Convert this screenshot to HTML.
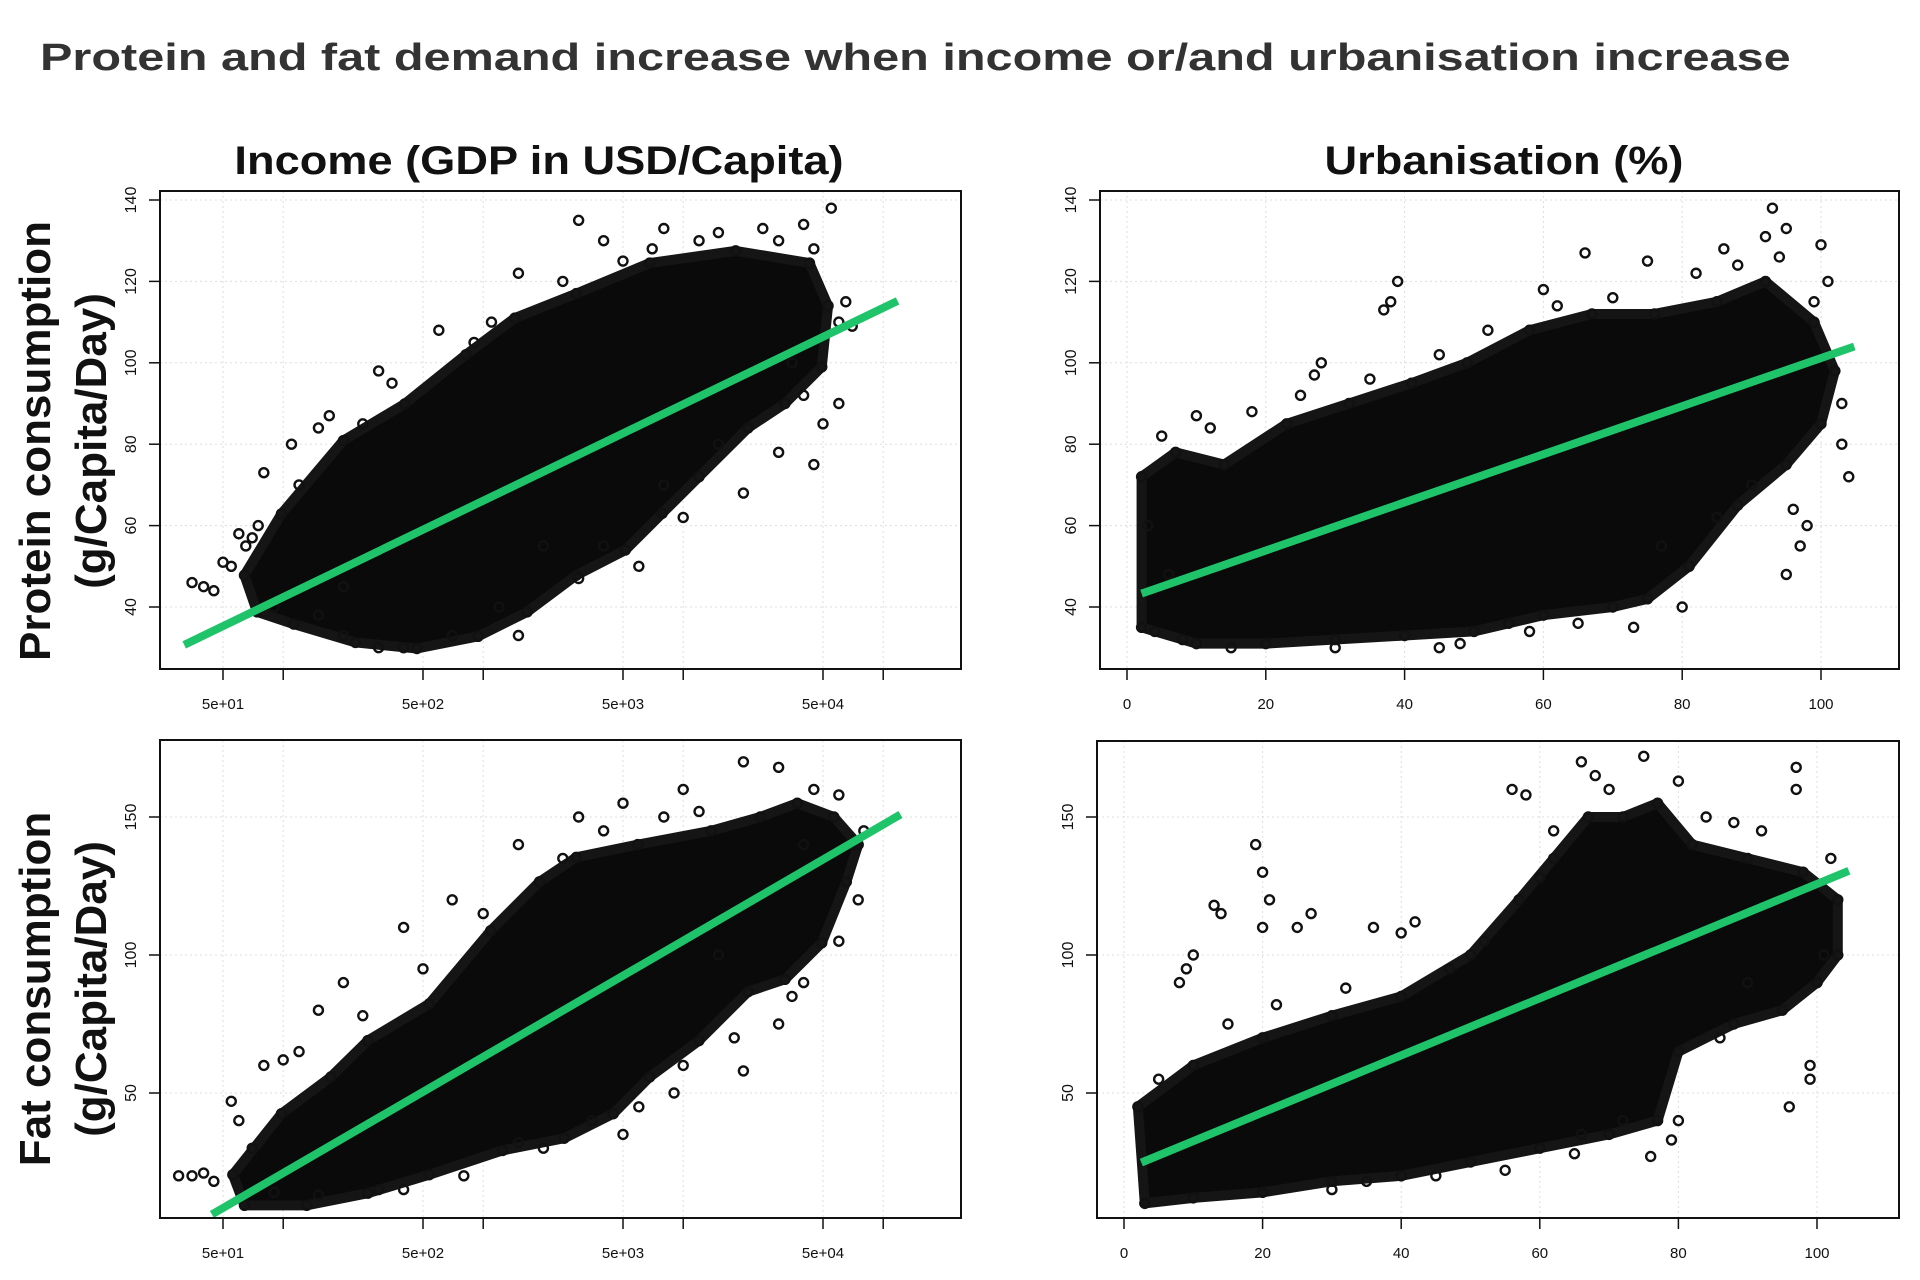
<!DOCTYPE html>
<html><head><meta charset="utf-8"><style>
body{margin:0;background:#fff;width:1920px;height:1280px;overflow:hidden;font-family:"Liberation Sans",sans-serif}
svg{display:block}
</style></head><body>
<svg id="c" width="1920" height="1280">
<text x="40" y="70" font-size="38" font-weight="bold" fill="#333" transform="translate(40,0) scale(1.28,1) translate(-40,0)">Protein and fat demand increase when income or/and urbanisation increase</text>
<text x="539" y="174" text-anchor="middle" font-size="40" font-weight="bold" fill="#111" transform="translate(539,174) scale(1.13,1) translate(-539,-174)">Income (GDP in USD/Capita)</text>
<text x="1504" y="174" text-anchor="middle" font-size="40" font-weight="bold" fill="#111" transform="translate(1504,174) scale(1.13,1) translate(-1504,-174)">Urbanisation (%)</text>
<g font-size="44" font-weight="bold" fill="#111" text-anchor="middle">
<text transform="translate(50,441) rotate(-90)">Protein consumption</text>
<text transform="translate(106,441) rotate(-90)">(g/Capita/Day)</text>
</g>
<g font-size="44" font-weight="bold" fill="#111" text-anchor="middle">
<text transform="translate(50,989) rotate(-90)">Fat consumption</text>
<text transform="translate(106,989) rotate(-90)">(g/Capita/Day)</text>
</g>
</svg>
<script>
// ---- data: protein vs income ----
const pIncHullX=[64,98,200,405,820,1440,2920,6800,18300,42800,53000,49300,32300,21100,12000,7850,5140,2920,1660,944,466,230,113,74];
const pIncHullY=[47.8,62.9,80.9,89.9,102,111,117,124.5,127.5,124.5,114,99,90,84,72,63,54,47.8,38.8,32.8,29.8,31.3,35.8,38.8];
const pIncPtsX=[35,40,45,50,55,60,70,80,65,110,150,170,300,600,1500,3000,4000,8000,15000,25000,40000,55000,60000,70000,40000,50000,45000,20000,10000,6000,3000,1500,700,400,200,150,60000,30000,2000,200,120,250,350,900,1100,2500,5000,7000,12000,30000,45000,65000,35000,15000,8000,4000,1200,300,90,75];
const pIncPtsY=[46,45,44,51,50,58,57,73,55,80,84,87,98,108,122,135,130,133,132,133,134,138,110,109,92,85,75,68,62,50,47,33,33,30,33,38,90,78,55,45,70,85,95,105,110,120,125,128,130,130,128,115,100,80,70,55,40,30,40,60];
const pIncLineX=[32,118000];
const pIncLineY=[30.7,115.2];
// ---- protein vs urbanisation ----
const pUrbHullX=[2.1,7,14,23,32,41,49,58,67,76,85,92,99,102,100,95,88,81,75,70,60,50,40,30,20,10,2.1];
const pUrbHullY=[72,78,75,85,90,95,100,108,112,112,115,120,110,98,85,75,65,50,42,40,38,34,33,32,31,31,35];
const pUrbPtsX=[38,39,37,28,27,95,93,92,100,101,103,103,104,98,97,95,96,90,85,77,80,73,55,45,8,4,6,10,60,66,75,82,86,3,5,12,18,25,35,45,52,62,70,88,94,99,65,58,48,30,15];
const pUrbPtsY=[115,120,113,100,97,133,138,131,129,120,90,80,72,60,55,48,64,70,62,55,40,35,36,30,32,34,48,87,118,127,125,122,128,60,82,84,88,92,96,102,108,114,116,124,126,115,36,34,31,30,30];
const pUrbLineX=[2.1,104.8];
const pUrbLineY=[43.3,104];
// ---- fat vs income ----
const fIncHullX=[56,98,173,265,537,1090,1910,2920,5930,13800,24300,37200,56700,75000,65400,49300,32300,21100,12000,6800,4470,2540,1250,537,265,131,64];
const fIncHullY=[20.4,42.5,55.8,69,82.3,108.8,126.5,135.4,140,145,150,155,150,140,126.5,104.4,91.2,86.7,69,55.8,42.5,33.6,29.2,20.4,13.7,9.3,9.3];
const fIncPtsX=[30,35,40,45,55,60,70,80,100,150,200,400,700,1500,3000,5000,10000,20000,30000,60000,80000,75000,60000,40000,30000,20000,10000,5000,2000,800,400,150,90,40000,15000,6000,120,250,500,1000,2500,4000,8000,12000,45000,70000,35000,18000,9000,3500,1500,300];
const fIncPtsY=[20,20,21,18,47,40,30,60,62,80,90,110,120,140,150,155,160,170,168,158,145,120,105,90,75,58,60,35,30,20,15,13,14,140,100,45,65,78,95,115,135,145,150,152,160,140,85,70,50,40,32,15];
const fIncLineX=[44,122000];
const fIncLineY=[6,150.9];
// ---- fat vs urbanisation ----
const fUrbHullX=[2,10,20,30,40,50,57,62,67,72,77,82,90,98,103,103,100,95,88,80,77,70,60,50,40,30,20,10,3];
const fUrbHullY=[45,60,70,78,85,100,120,135,150,150,155,140,135,130,120,100,90,80,75,65,40,35,30,25,20,18,14,12,10];
const fUrbPtsX=[19,20,21,20,14,13,10,8,9,27,25,36,40,42,56,58,66,75,80,88,97,97,96,99,99,100,101,76,79,80,30,35,45,55,65,72,66,5,15,22,32,47,52,60,70,84,92,102,62,68,86,90];
const fUrbPtsY=[140,130,120,110,115,118,100,90,95,115,110,110,108,112,160,158,170,172,163,148,168,160,45,55,60,90,100,27,33,40,15,18,20,22,28,40,35,55,75,82,88,95,105,128,160,150,145,135,145,165,70,90];
const fUrbLineX=[2.5,104.6];
const fUrbLineY=[24.8,130.5];

const logTicks=[50,100,500,1000,5000,10000,50000,100000];
const logLabels={50:'5e+01',500:'5e+02',5000:'5e+03',50000:'5e+04'};
const linTicks=[0,20,40,60,80,100];
const pYTicks=[40,60,80,100,120,140];
const fYTicks=[50,100,150];

const svg=document.getElementById('c');
const NS='http://www.w3.org/2000/svg';
function mk(tag,attrs,parent){const e=document.createElementNS(NS,tag);for(const k in attrs)e.setAttribute(k,attrs[k]);(parent||svg).appendChild(e);return e;}

function panel(name,frame,xs,ys,xTicks,xLab,yTicks,hx,hy,px,py,lx,ly){
  const g=mk('g',{});
  
  
  xTicks.forEach(t=>{const l=mk('line',{x1:xs(t),x2:xs(t),y1:frame.y0,y2:frame.y1,stroke:'#ddd','stroke-dasharray':'2,3'},g);});
  yTicks.forEach(t=>{const l=mk('line',{x1:frame.x0,x2:frame.x1,y1:ys(t),y2:ys(t),stroke:'#ddd','stroke-dasharray':'2,3'},g);});
  const pts=hx.map((v,i)=>xs(v)+','+ys(hy[i])).join(' ');
  const poly=mk('polygon',{points:pts,fill:'#0a0a0a',stroke:'#151515','stroke-width':10,'stroke-linejoin':'round'},g);
  
  
  hx.forEach((v,i)=>{const c=mk('circle',{cx:xs(v),cy:ys(hy[i]),r:4.5,fill:'none',stroke:'#111','stroke-width':2.4},g);});
  px.forEach((v,i)=>{const c=mk('circle',{cx:xs(v),cy:ys(py[i]),r:4.5,fill:'none',stroke:'#111','stroke-width':2.4},g);});
  const rl=mk('line',{x1:xs(lx[0]),y1:ys(ly[0]),x2:xs(lx[1]),y2:ys(ly[1]),stroke:'#1fc46a','stroke-width':8},g);
  
  
  const fr=mk('rect',{x:frame.x0,y:frame.y0,width:frame.x1-frame.x0,height:frame.y1-frame.y0,fill:'none',stroke:'#111','stroke-width':2},g);
  
  
  xTicks.forEach(t=>{
    const l=mk('line',{x1:xs(t),x2:xs(t),y1:frame.y1,y2:frame.y1+11,stroke:'#111','stroke-width':1.5},g);
    
    const lab=xLab(t);
    if(lab!==null){const tx=mk('text',{x:xs(t),y:frame.y1+40,'text-anchor':'middle','font-size':15,fill:'#111'},g);tx.textContent=lab;}
  });
  yTicks.forEach(t=>{
    const l=mk('line',{x1:frame.x0-11,x2:frame.x0,y1:ys(t),y2:ys(t),stroke:'#111','stroke-width':1.5},g);
    
    const tx=mk('text',{transform:`translate(${frame.x0-24},${ys(t)}) rotate(-90)`,'text-anchor':'middle','font-size':16,fill:'#111'},g);
    tx.textContent=String(t);
    
  });
}
const logX=v=>223+200*Math.log10(v/50);
const pY=v=>607-(v-40)*81.4/20;
const fY=v=>1093-(v-50)*138/50;
const uxT=v=>1127+v*6.94;
const uxB=v=>1124+v*6.93;
const logLab=t=>logLabels[t]!==undefined?logLabels[t]:null;
const linLab=t=>String(t);
panel('protein-income-panel',{x0:160,x1:961,y0:191,y1:669},logX,pY,logTicks,logLab,pYTicks,pIncHullX,pIncHullY,pIncPtsX,pIncPtsY,pIncLineX,pIncLineY);
panel('protein-urbanisation-panel',{x0:1100,x1:1899,y0:191,y1:669},uxT,pY,linTicks,linLab,pYTicks,pUrbHullX,pUrbHullY,pUrbPtsX,pUrbPtsY,pUrbLineX,pUrbLineY);
panel('fat-income-panel',{x0:160,x1:961,y0:740,y1:1218},logX,fY,logTicks,logLab,fYTicks,fIncHullX,fIncHullY,fIncPtsX,fIncPtsY,fIncLineX,fIncLineY);
panel('fat-urbanisation-panel',{x0:1097,x1:1899,y0:741,y1:1218},uxB,fY,linTicks,linLab,fYTicks,fUrbHullX,fUrbHullY,fUrbPtsX,fUrbPtsY,fUrbLineX,fUrbLineY);
</script>
</body></html>
